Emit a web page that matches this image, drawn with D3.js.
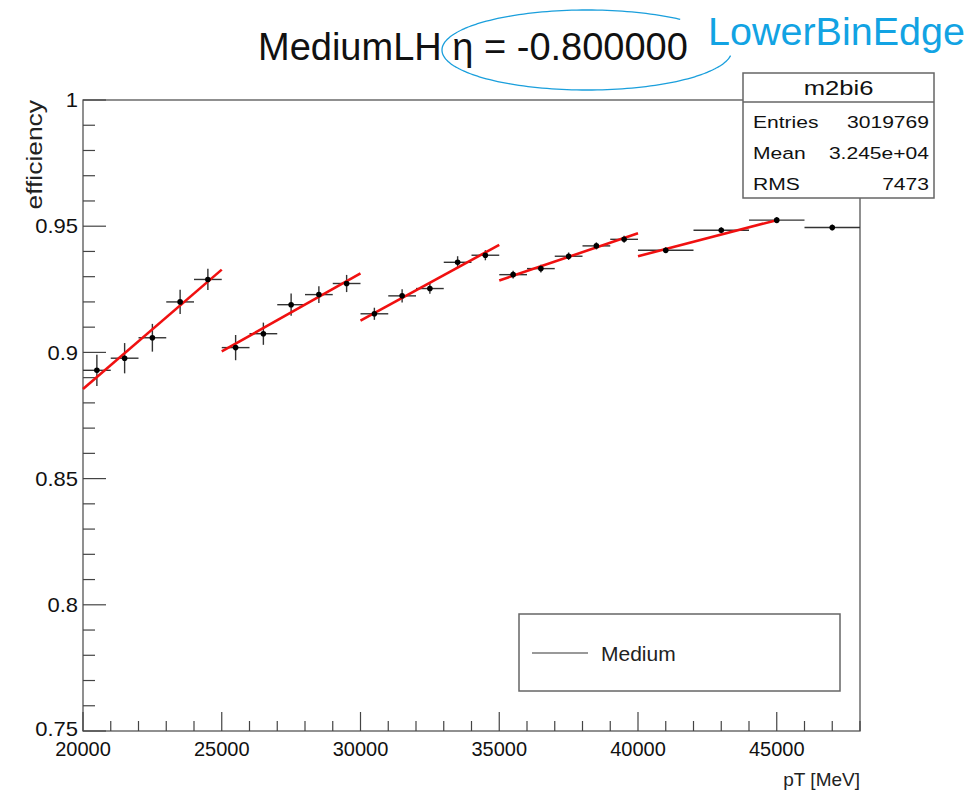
<!DOCTYPE html>
<html>
<head>
<meta charset="utf-8">
<script src="https://cdn.jsdelivr.net/npm/d3@7/dist/d3.min.js"></script>
<style>
  body { margin: 0; background: #fff; }
  svg { display: block; font-family: "Liberation Sans", Arial, Helvetica, sans-serif; }
</style>
</head>
<body>
<svg id="chart" width="969" height="794"></svg>
<script>
// ---- data ----
const binCenters = [20500, 21500, 22500, 23500, 24500, 25500, 26500, 27500, 28500, 29500,
                    30500, 31500, 32500, 33500, 34500, 35500, 36500, 37500, 38500, 39500,
                    41000, 43000, 45000, 47000];
const binHalfWidths = [500, 500, 500, 500, 500, 500, 500, 500, 500, 500,
                       500, 500, 500, 500, 500, 500, 500, 500, 500, 500,
                       1000, 1000, 1000, 1000];
const efficiency = [0.8929, 0.8977, 0.9058, 0.9200, 0.9289, 0.9019, 0.9074, 0.9189, 0.9229, 0.9273,
                    0.9153, 0.9224, 0.9253, 0.9357, 0.9385, 0.9308, 0.9332, 0.9381, 0.9422, 0.9448,
                    0.9405, 0.9484, 0.9524, 0.9495];
const effErrors = [0.0062, 0.0060, 0.0055, 0.0048, 0.0042, 0.0050, 0.0044, 0.0044, 0.0033, 0.0034,
                   0.0024, 0.0026, 0.0021, 0.0024, 0.0020, 0.0015, 0.0015, 0.0015, 0.0014, 0.0014,
                   0.0012, 0.0012, 0.0012, 0.0012];
const fitStartX = [20000, 25000, 30000, 35000, 40000];
const fitEndX   = [25000, 30000, 35000, 40000, 45000];
const fitStartY = [0.8855, 0.9004, 0.9126, 0.9285, 0.9381];
const fitEndY   = [0.9328, 0.9313, 0.9426, 0.9472, 0.9524];
const xTickLabels = [20000, 25000, 30000, 35000, 40000, 45000];
const yTickLabels = [0.75, 0.8, 0.85, 0.9, 0.95, 1];
const statLabels = ["Entries", "Mean", "RMS"];
const statValues = ["3019769", "3.245e+04", "7473"];
const histName = "m2bi6";
const legendLabels = ["Medium"];

// ---- layout ----
const svg = d3.select("#chart");
const L = 83, R = 860, T = 100, B = 731;
const x = d3.scaleLinear().domain([20000, 48000]).range([L, R]);
const y = d3.scaleLinear().domain([0.75, 1]).range([B, T]);
const axisColor = "#444";

// frame
svg.append("rect").attr("x", L).attr("y", T).attr("width", R - L).attr("height", B - T)
  .attr("fill", "none").attr("stroke", "#555").attr("stroke-width", 1.3);

// y axis ticks (inward)
const yMinor = d3.range(0.75, 1.0001, 0.01);
svg.append("g").selectAll("line").data(yMinor).join("line")
  .attr("x1", L).attr("x2", d => L + (Math.abs(Math.round(d * 100) % 5) === 0 ? 23 : 12))
  .attr("y1", d => y(d)).attr("y2", d => y(d))
  .attr("stroke", axisColor).attr("stroke-width", 1.2);
svg.append("g").selectAll("text").data(yTickLabels).join("text")
  .attr("transform", d => `translate(78,${y(d) - (d === 0.75 ? 2 : 0)}) scale(1.1,1)`)
  .attr("dy", "0.36em")
  .attr("text-anchor", "end").attr("font-size", 20).attr("fill", "#111")
  .text(d => d === 1 ? "1" : d3.format("")(d));

// x axis ticks (inward)
const xMinor = d3.range(20000, 48001, 1000);
svg.append("g").selectAll("line").data(xMinor).join("line")
  .attr("y1", B).attr("y2", d => B - (d % 5000 === 0 ? 19 : 10))
  .attr("x1", d => x(d)).attr("x2", d => x(d))
  .attr("stroke", axisColor).attr("stroke-width", 1.2);
svg.append("g").selectAll("text").data(xTickLabels).join("text")
  .attr("x", d => x(d)).attr("y", 756)
  .attr("text-anchor", "middle").attr("font-size", 20).attr("fill", "#111")
  .text(d => d);

// axis titles
svg.append("text").attr("x", R).attr("y", 786).attr("text-anchor", "end")
  .attr("font-size", 19).attr("fill", "#222").text("pT [MeV]");
svg.append("text").attr("transform", `translate(42,${T}) rotate(-90) scale(1.2,1)`)
  .attr("text-anchor", "end").attr("font-size", 22).attr("fill", "#222").text("efficiency");

// error bars
const pts = binCenters.map((c, i) => ({ c, hw: binHalfWidths[i], v: efficiency[i], e: effErrors[i] }));
const gErr = svg.append("g").attr("stroke", "#333").attr("stroke-width", 1.4);
gErr.selectAll("line.h").data(pts).join("line").attr("class", "h")
  .attr("x1", d => x(d.c - d.hw)).attr("x2", d => x(d.c + d.hw))
  .attr("y1", d => y(d.v)).attr("y2", d => y(d.v));
gErr.selectAll("line.v").data(pts).join("line").attr("class", "v")
  .attr("x1", d => x(d.c)).attr("x2", d => x(d.c))
  .attr("y1", d => y(d.v - d.e)).attr("y2", d => y(d.v + d.e));

// fit lines
const fits = fitStartX.map((s, i) => ({ x0: s, x1: fitEndX[i], y0: fitStartY[i], y1: fitEndY[i] }));
svg.append("g").selectAll("line").data(fits).join("line")
  .attr("x1", d => x(d.x0)).attr("x2", d => x(d.x1))
  .attr("y1", d => y(d.y0)).attr("y2", d => y(d.y1))
  .attr("stroke", "#f01010").attr("stroke-width", 2.6);

// markers
svg.append("g").selectAll("circle").data(pts).join("circle")
  .attr("cx", d => x(d.c)).attr("cy", d => y(d.v)).attr("r", 2.8).attr("fill", "#000");

// stats box
const sb = { x: 743, y: 73, w: 191, h: 125 };
svg.append("rect").attr("x", sb.x).attr("y", sb.y).attr("width", sb.w).attr("height", sb.h)
  .attr("fill", "#fff").attr("stroke", "#666").attr("stroke-width", 1.5);
svg.append("line").attr("x1", sb.x).attr("x2", sb.x + sb.w).attr("y1", 102).attr("y2", 102)
  .attr("stroke", "#666").attr("stroke-width", 1.5);
svg.append("text").attr("transform", `translate(${sb.x + sb.w / 2},95) scale(1.22,1)`)
  .attr("text-anchor", "middle")
  .attr("font-size", 21).attr("fill", "#111").text(histName);
const rowY = [128, 159, 190];
statLabels.forEach((lab, i) => {
  svg.append("text").attr("transform", `translate(753,${rowY[i]}) scale(1.24,1)`)
    .attr("font-size", 17).attr("fill", "#111").text(lab);
  svg.append("text").attr("transform", `translate(929,${rowY[i]}) scale(1.24,1)`)
    .attr("text-anchor", "end")
    .attr("font-size", 17).attr("fill", "#111").text(statValues[i]);
});

// legend
svg.append("rect").attr("x", 519).attr("y", 614).attr("width", 321).attr("height", 77)
  .attr("fill", "#fff").attr("stroke", "#666").attr("stroke-width", 1.5);
svg.append("line").attr("x1", 532).attr("x2", 588).attr("y1", 653).attr("y2", 653)
  .attr("stroke", "#777").attr("stroke-width", 1.5);
svg.append("text").attr("x", 601).attr("y", 661).attr("font-size", 21).attr("fill", "#222").text(legendLabels[0]);

// title
svg.append("text").attr("x", 258).attr("y", 60).attr("font-size", 38).attr("fill", "#111")
  .text("MediumLH η = -0.800000");

// annotation
svg.append("text").attr("x", 708).attr("y", 45).attr("font-size", 39.5).attr("fill", "#12a3e3")
  .text("LowerBinEdge");
const cx = 587, cy = 50, rx = 145, ry = 40;
const arcPts = d3.range(50, 354, 2).map(a => {
  const t = a * Math.PI / 180;
  return [cx + rx * Math.cos(t), cy - ry * Math.sin(t)];
});
svg.append("path").attr("d", d3.line().curve(d3.curveCatmullRom)(arcPts))
  .attr("fill", "none").attr("stroke", "#1a9fdc").attr("stroke-width", 1.3);
</script>
</body>
</html>
